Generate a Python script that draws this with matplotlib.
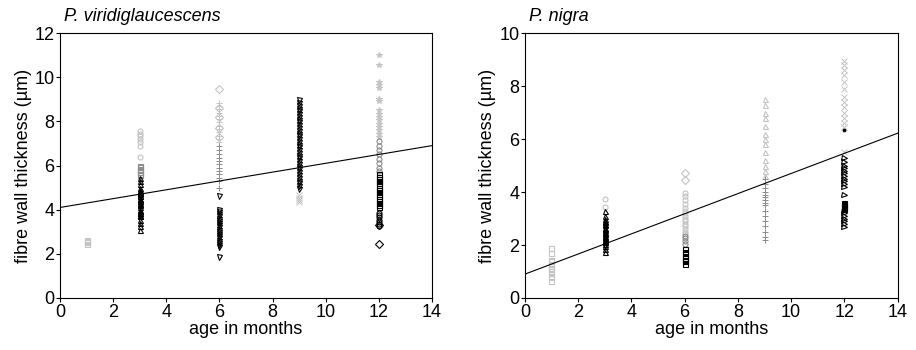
import matplotlib
matplotlib.use("Agg")
from matplotlib import pyplot as plt
import numpy as np

plt.rcParams["font.family"] = ["Liberation Sans", "DejaVu Sans"]

LG = "#c4c4c4"
MG = "#8c8c8c"
BK = "#000000"

# P. viridiglaucescens: (age, marker, colour, filled, values)
pv_1_sq = [2.45, 2.52, 2.58, 2.62]
pv_3_circ = [7.57, 7.45, 7.32, 7.2, 7.05, 6.9, 6.4]
pv_3_sq = [6.0, 5.92, 5.85, 5.78, 5.7, 5.62, 5.55]
pv_3_tri = [5.45, 5.3, 5.15, 5.0, 4.9, 4.8, 4.7, 4.6, 4.5, 4.4, 4.3, 4.2,
            4.1, 3.95, 3.85, 3.7, 3.55, 3.4, 3.25, 3.1]
pv_3_fill = [4.85, 4.75, 4.62, 4.5, 4.38, 4.25, 4.0, 3.92, 3.85, 3.78, 3.7]
pv_6_dia = [9.46, 8.6, 8.2, 7.7, 7.3]
pv_6_plus_lg = [8.85, 8.7, 8.55, 8.4, 8.25, 8.1, 7.95, 7.8, 7.65, 7.5, 7.35,
                7.2, 7.05]
pv_6_plus_mg = [6.9, 6.7, 6.5, 6.35, 6.2, 6.05, 5.9, 5.75, 5.6, 5.45, 5.3, 5.0]
pv_6_vtri = [4.6, 4.0, 3.9, 3.8, 3.7, 3.6, 3.5, 3.4, 3.3, 3.2, 3.1, 3.0, 2.9,
             2.8, 2.7, 2.6, 2.5, 2.4, 2.3, 1.85]
pv_9_vtri = [8.95, 8.82, 8.7, 8.58, 8.45, 8.32, 8.2, 8.08, 7.95, 7.82, 7.7,
             7.58, 7.45, 7.32, 7.2, 7.08, 6.95, 6.82, 6.7, 6.58, 6.45, 6.32,
             6.2, 6.08, 5.95, 5.82, 5.7, 5.58, 5.45, 5.32, 5.2, 5.08, 4.95]
pv_9_x = [4.65, 4.55, 4.45, 4.35]
pv_12_star = [11.0, 10.55, 9.8, 9.65, 9.5, 9.0, 8.9, 8.5, 8.35, 8.2, 8.05,
              7.9, 7.75, 7.6, 7.45, 7.3]
pv_12_circ_mg = [7.1, 6.9, 6.7, 6.5, 6.3, 6.1, 5.9, 5.75]
pv_12_sq = [5.6, 5.5, 5.4, 5.3, 5.2, 5.1, 5.0, 4.9, 4.8, 4.7, 4.6, 4.5, 4.4,
            4.3, 4.2, 4.1]
pv_12_circ = [3.85, 3.75, 3.65, 3.55, 3.45, 3.35, 3.25]
pv_12_dia = [3.3, 2.44]
pv_fit = (4.1, 0.2)  # intercept, slope

# P. nigra
pn_1_sq = [1.9, 1.7, 1.45, 1.38, 1.3, 1.22, 1.15, 1.08, 1.0, 0.95, 0.78, 0.64]
pn_3_circ = [3.72, 3.42]
pn_3_tri = [3.27, 3.1, 2.97, 2.85, 2.75, 2.65, 2.55, 2.45, 2.35, 2.25, 2.15,
            2.05, 1.95, 1.85, 1.73]
pn_3_fill = [2.9, 2.8, 2.6, 2.5, 2.4, 2.3, 2.2, 2.1]
pn_6_dia = [4.73, 4.47]
pn_6_circ_lg = [3.98, 3.85, 3.7, 3.55, 3.4, 3.3, 3.2, 3.1, 3.0, 2.9, 2.8,
                2.7, 2.6, 2.5, 2.4]
pn_6_circ_mg = [2.33, 2.25, 2.15, 2.05]
pn_6_sq = [1.84, 1.75, 1.68, 1.6, 1.52, 1.45, 1.38, 1.3]
pn_9_tri = [7.5, 7.3, 7.0, 6.8, 6.5, 6.2, 6.0, 5.8, 5.5, 5.2, 5.0, 4.8, 4.6]
pn_9_plus = [4.5, 4.3, 4.15, 4.0, 3.9, 3.8, 3.7, 3.6, 3.5, 3.3, 3.1, 2.9,
             2.7, 2.5, 2.3, 2.2]
pn_12_x = [8.95, 8.8, 8.6, 8.4, 8.15, 7.9, 7.6, 7.4, 7.2, 7.0, 6.8, 6.6,
           6.45, 5.5]
pn_12_dot = [6.35]
pn_12_rtri = [5.3, 5.15, 5.0, 4.9, 4.8, 4.7, 4.6, 4.5, 4.4, 4.3, 4.2, 3.9]
pn_12_sq = [3.6, 3.5, 3.42, 3.35]
pn_12_rtri2 = [3.3, 3.2, 3.1, 3.0, 2.9, 2.8, 2.67]
pn_fit = (0.9, 0.38)

pv_groups = [
    (1, "s", LG, False, pv_1_sq), (3, "o", LG, False, pv_3_circ),
    (3, "s", MG, False, pv_3_sq), (3, "^", BK, False, pv_3_tri),
    (3, "^", BK, True, pv_3_fill), (6, "D", LG, False, pv_6_dia),
    (6, "+", LG, False, pv_6_plus_lg), (6, "+", MG, False, pv_6_plus_mg),
    (6, "v", BK, False, pv_6_vtri), (9, "v", BK, False, pv_9_vtri),
    (9, "x", LG, False, pv_9_x), (12, "*", LG, False, pv_12_star),
    (12, "o", MG, False, pv_12_circ_mg), (12, "s", BK, False, pv_12_sq),
    (12, "o", BK, False, pv_12_circ), (12, "D", BK, False, pv_12_dia),
]
pn_groups = [
    (1, "s", LG, False, pn_1_sq), (3, "o", LG, False, pn_3_circ),
    (3, "^", BK, False, pn_3_tri), (3, "^", BK, True, pn_3_fill),
    (6, "D", LG, False, pn_6_dia), (6, "o", LG, False, pn_6_circ_lg),
    (6, "o", MG, False, pn_6_circ_mg), (6, "s", BK, False, pn_6_sq),
    (9, "^", LG, False, pn_9_tri), (9, "+", MG, False, pn_9_plus),
    (12, "x", LG, False, pn_12_x), (12, ".", BK, True, pn_12_dot),
    (12, ">", BK, False, pn_12_rtri), (12, "s", BK, True, pn_12_sq),
    (12, ">", BK, False, pn_12_rtri2),
]

fig = plt.figure(figsize=(9.16, 3.5), dpi=100)
ax1 = fig.add_axes([0.0655, 0.1486, 0.406, 0.757])
ax2 = fig.add_axes([0.573, 0.1486, 0.407, 0.757])


def draw(ax, groups, fit, ymax, title):
    for age, mk, col, filled, vals in groups:
        x = np.full(len(vals), age)
        if mk in ("+", "x", "*", "."):
            ax.plot(x, vals, linestyle="none", marker=mk, color=col,
                    markersize=4, markeredgewidth=0.7)
        else:
            ax.plot(x, vals, linestyle="none", marker=mk,
                    markerfacecolor=col if filled else "none",
                    markeredgecolor=col, markersize=3.6, markeredgewidth=0.8)
    xs = np.array([0, 14])
    ax.plot(xs, fit[0] + fit[1] * xs, color="black", linewidth=0.8)
    ax.set_xlim(0, 14)
    ax.set_ylim(0, ymax)
    ax.set_xticks(range(0, 15, 2))
    ax.set_yticks(range(0, ymax + 1, 2))
    ax.tick_params(direction="out", length=3, width=0.8, labelsize=13, pad=1)
    for s in ax.spines.values():
        s.set_linewidth(0.8)
    ax.set_xlabel("age in months", fontsize=13, labelpad=0)
    ax.set_ylabel("fibre wall thickness (µm)", fontsize=13, labelpad=2)
    ax.text(0.01, 1.03, title, transform=ax.transAxes, fontsize=13,
            fontstyle="italic", ha="left", va="bottom")


draw(ax1, pv_groups, pv_fit, 12, "P. viridiglaucescens")
draw(ax2, pn_groups, pn_fit, 10, "P. nigra")

plt.savefig("out.png", dpi=100)
plt.close()
